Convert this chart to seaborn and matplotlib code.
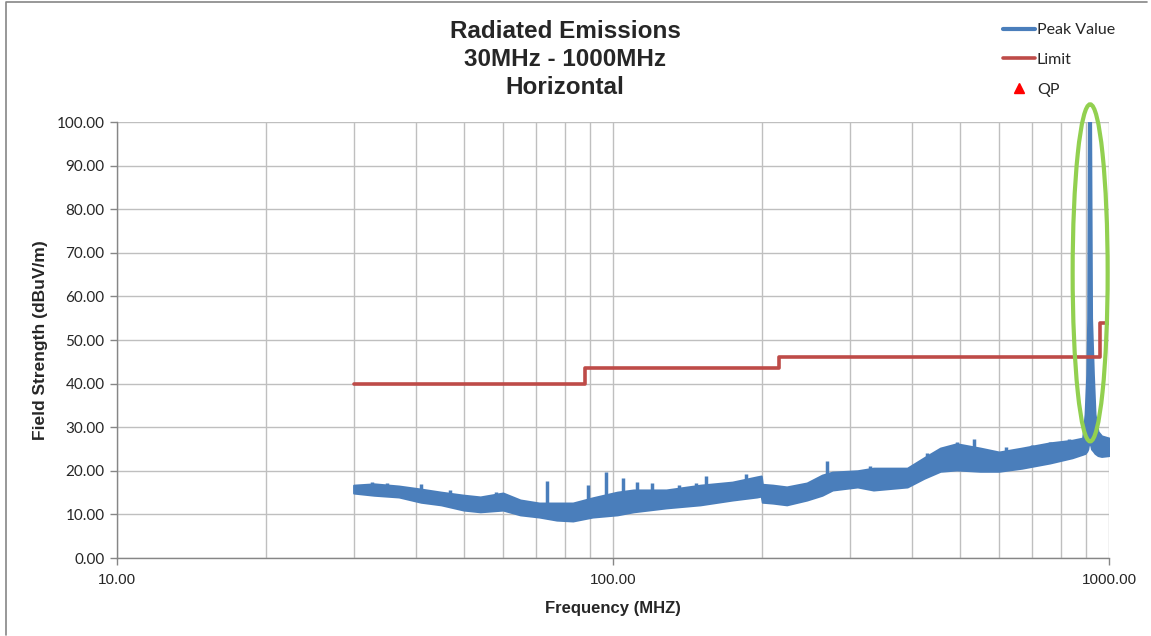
import matplotlib
matplotlib.use('Agg')

import matplotlib.pyplot as plt
import seaborn as sns
import numpy as np
from matplotlib.lines import Line2D
from matplotlib.patches import Ellipse
from matplotlib.ticker import FixedLocator, NullFormatter

# Peak value trace, read as the lower/upper edge of the measured band (dBuV/m)
peak_freq = [30, 33, 37, 41, 45, 50, 54, 60, 65, 71, 77, 83, 91, 102, 110, 128, 150, 174,
             195, 199, 200, 210, 224, 246, 264, 277, 311, 335, 392, 424, 457, 493, 550,
             600, 667, 760, 843, 885, 895, 902, 906, 909, 918, 922, 930, 937, 950, 966, 1000]
peak_lo = [14.9, 14.4, 14.0, 12.8, 12.2, 11.0, 10.6, 11.0, 9.9, 9.4, 8.7, 8.5, 9.4, 9.9, 10.6,
           11.5, 12.2, 13.3, 14.0, 14.2, 12.8, 12.6, 12.2, 13.3, 14.4, 15.6, 16.3, 15.6, 16.3,
           18.3, 19.9, 20.2, 19.9, 19.9, 20.6, 21.8, 23.0, 23.8, 24.0, 24.5, 25.0, 26.0, 26.0,
           25.0, 24.5, 24.0, 23.5, 23.3, 23.5]
peak_hi = [16.7, 17.0, 16.5, 15.8, 15.1, 14.4, 14.0, 14.9, 13.3, 12.6, 12.6, 12.6, 13.8, 15.1,
           15.6, 15.6, 16.7, 17.4, 18.6, 18.8, 16.9, 16.7, 16.3, 17.2, 19.0, 19.7, 20.0, 20.6,
           20.6, 23.0, 25.2, 26.2, 25.2, 24.3, 25.2, 26.4, 27.0, 27.5, 33.0, 42.0, 55.0, 100.0,
           100.0, 55.0, 42.0, 33.0, 29.0, 28.0, 27.5]

# narrow spikes sticking out of the band
spike_freq = [32.6, 35, 41, 47, 58, 73.6, 89, 97, 104.6, 112, 120, 136, 147, 154, 185,
              270, 330, 430, 493, 535, 620, 700, 760, 830]
spike_base = [16, 16, 15, 14, 13, 12, 12, 13, 14, 14, 14, 15, 15, 15, 17,
              18, 19, 21, 25, 24, 24, 25, 25, 26]
spike_top = [17.4, 17.2, 17.0, 15.6, 15.2, 17.7, 16.7, 19.8, 18.3, 17.5, 17.3, 16.7, 17.3, 18.8, 19.2,
             22.2, 21.0, 24.0, 26.6, 27.3, 25.5, 26.0, 26.6, 27.3]

# limit line
lim_freq = [30, 88, 88, 216, 216, 960, 960, 1000]
lim_val = [40, 40, 43.5, 43.5, 46, 46, 54, 54]

# quasi-peak results (none plotted)
qp_freq = []
qp_val = []

x_ticks = [10, 100, 1000]
y_ticks = [0, 10, 20, 30, 40, 50, 60, 70, 80, 90, 100]

sns.set_style('white')
plt.rcParams['font.family'] = ['Liberation Sans', 'DejaVu Sans']

blue = '#4a7ebb'
red = '#be4b48'
grid_c = '#bfbfbf'

fig = plt.figure(figsize=(11.51, 6.36), dpi=100)
ax = fig.add_axes([117 / 1151, 1 - 558 / 636, 992 / 1151, 436 / 636])

ax.set_xscale('log')
ax.set_xlim(10, 1000)
ax.set_ylim(0, 100)

# grid
minor = [m * d for d in (10, 100) for m in range(2, 10)]
ax.xaxis.set_major_locator(FixedLocator(x_ticks))
ax.xaxis.set_minor_locator(FixedLocator(minor))
ax.xaxis.set_minor_formatter(NullFormatter())
ax.set_yticks(y_ticks)
ax.grid(True, which='both', axis='x', color=grid_c, lw=1)
ax.grid(True, which='major', axis='y', color=grid_c, lw=1)
ax.set_axisbelow(True)

# peak value band + spikes
ax.fill_between(peak_freq, peak_lo, peak_hi, color=blue, lw=1.5, edgecolor=blue, zorder=3)
ax.vlines(spike_freq, spike_base, spike_top, color=blue, lw=2.5, zorder=3)

# limit
sns.lineplot(x=lim_freq, y=lim_val, sort=False, estimator=None, color=red, lw=2.6, ax=ax, zorder=4)
ax.scatter(qp_freq, qp_val, marker='^', color='red', zorder=5)

ax.set_xticklabels([f'{v:.2f}' for v in x_ticks], family=['Liberation Sans Narrow', 'Liberation Sans'],
                   fontsize=11)
ax.set_yticklabels([f'{v:.2f}' for v in y_ticks], family=['Lato', 'DejaVu Sans'], fontsize=11)
ax.tick_params(axis='both', which='major', length=5, width=1, color='#868686', direction='out',
               pad=4, bottom=True, left=True)
ax.tick_params(axis='x', which='minor', length=0)
ax.tick_params(axis='x', which='major', pad=6)

for s in ['top', 'right']:
    ax.spines[s].set_visible(False)
for s in ['left', 'bottom']:
    ax.spines[s].set_color('#868686')
    ax.spines[s].set_linewidth(1)

ax.set_xlabel('Frequency (MHZ)', fontsize=12, fontweight='bold',
              family=['Liberation Sans Narrow', 'Liberation Sans'], labelpad=10)
ax.set_ylabel('Field Strength (dBuV/m)', fontsize=12.5, fontweight='bold', labelpad=6)

fig.text(565 / 1151, 1 - 20 / 636, 'Radiated Emissions\n30MHz - 1000MHz\nHorizontal',
         ha='center', va='top', fontsize=17.5, fontweight='bold', linespacing=1.28)

# highlight around the peak
ax.add_patch(Ellipse((0.981, 0.654), 0.0353, 0.773, transform=ax.transAxes, fill=False,
                     ec='#92d050', lw=3, clip_on=False, zorder=6))

handles = [Line2D([], [], color=blue, lw=3),
           Line2D([], [], color=red, lw=2.6, marker='_', markersize=5, markeredgewidth=1.5),
           Line2D([], [], color='red', marker='^', ls='none', markersize=7)]
fig.legend(handles, ['Peak Value', 'Limit', 'QP'], loc='upper left',
           bbox_to_anchor=(995 / 1151, 1 - 15 / 636), frameon=False, borderpad=0,
           handlelength=2.0, handletextpad=0.12, labelspacing=0.98,
           prop={'family': ['Lato', 'DejaVu Sans'], 'size': 11.5})

# chart frame: only top and left edges show
fig.add_artist(Line2D([6 / 1151, 6 / 1151, 1147 / 1151], [1 - 635 / 636, 1 - 2 / 636, 1 - 2 / 636],
                      transform=fig.transFigure, color='#868686', lw=1.2))

fig.savefig('out.png', dpi=100)
